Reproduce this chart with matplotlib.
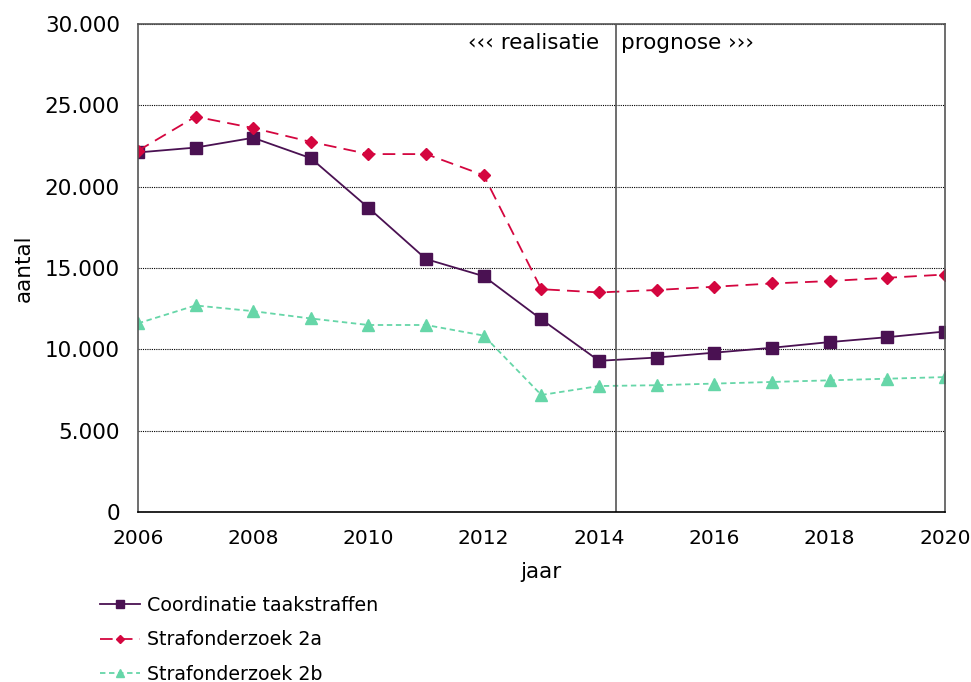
import matplotlib.pyplot as plt
from matplotlib.ticker import FuncFormatter

years = list(range(2006, 2021))
coordinatie = [22100, 22400, 23000, 21750, 18700, 15550, 14500, 11850,
               9300, 9500, 9800, 10100, 10450, 10750, 11100]
straf_2a = [22200, 24300, 23600, 22750, 22000, 22000, 20700, 13700,
            13500, 13650, 13850, 14050, 14200, 14400, 14600]
straf_2b = [11600, 12700, 12350, 11900, 11500, 11500, 10850, 7200,
            7750, 7800, 7900, 8000, 8100, 8200, 8300]
split_year = 2014.3

fs = 15.5
fig = plt.figure(figsize=(9.71, 6.82), dpi=100)
ax = fig.add_axes([0.142, 0.249, 0.831, 0.716])

ax.plot(years, coordinatie, color='#4a1152', lw=1.3, marker='s', ms=8,
        label='Coordinatie taakstraffen')
ax.plot(years, straf_2a, color='#d4063f', lw=1.3, ls=(0, (7, 4)), marker='D', ms=6,
        label='Strafonderzoek 2a')
ax.plot(years, straf_2b, color='#66d6a8', lw=1.3, ls=(0, (3, 2)), marker='^', ms=8,
        label='Strafonderzoek 2b')

# scheiding tussen realisatie en prognose
ax.axvline(split_year, color='#555555', lw=1.2)
ax.text(split_year - 0.3, 28800, '‹‹‹ realisatie', ha='right', va='center', fontsize=fs)
ax.text(split_year + 0.08, 28800, 'prognose ›››', ha='left', va='center', fontsize=fs)

ax.set_xlim(2006, 2020)
ax.set_ylim(0, 30000)
ax.set_xticks(range(2006, 2021, 2))
ax.set_yticks(range(0, 30001, 5000))
ax.yaxis.set_major_formatter(FuncFormatter(lambda v, p: f'{int(v):,}'.replace(',', '.')))
ax.grid(axis='y', color='black', ls=(0, (1, 1)), lw=0.8)
ax.tick_params(labelsize=fs, length=0)
ax.tick_params(axis='x', pad=12, labelsize=14.5)
ax.tick_params(axis='y', pad=13)
for s in ax.spines.values():
    s.set_color('#555555')
    s.set_linewidth(1.2)
ax.spines['bottom'].set_color('black')

ax.set_xlabel('jaar', fontsize=fs, labelpad=10)
ax.set_ylabel('aantal', fontsize=fs, labelpad=8)

fig.legend(loc='upper left', bbox_to_anchor=(0.103, 0.126), frameon=False,
           fontsize=13.7, handlelength=2.1, labelspacing=0.8, handletextpad=0.35,
           markerscale=0.7, borderaxespad=0, borderpad=0)

fig.savefig('out.png', dpi=100)
